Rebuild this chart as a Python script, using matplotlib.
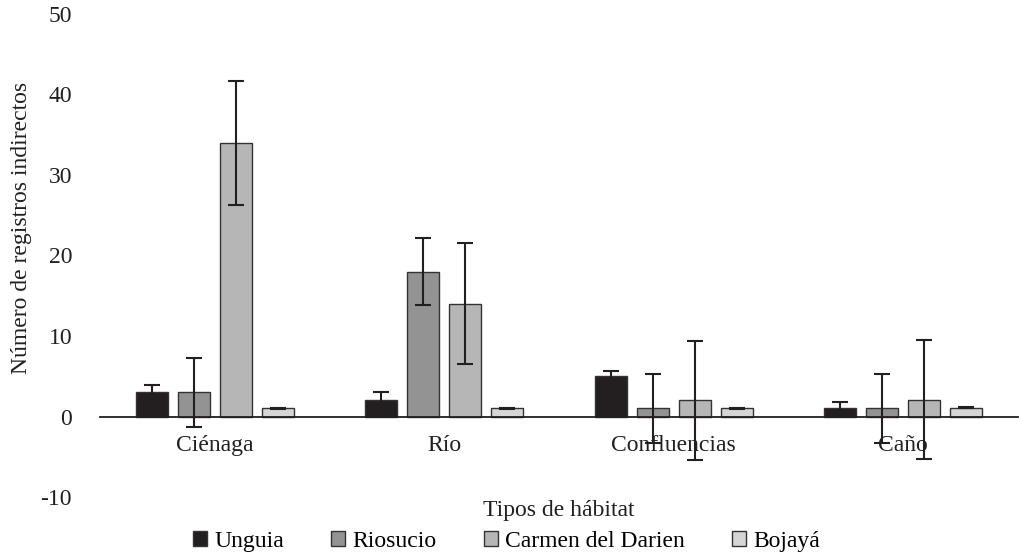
import matplotlib.pyplot as plt
import numpy as np

plt.rcParams['font.family'] = ['Liberation Serif', 'DejaVu Serif']
plt.rcParams['font.size'] = 17

# Indirect records per habitat type and municipality
habitats = ["Ciénaga", "Río", "Confluencias", "Caño"]
municipios = ["Unguia", "Riosucio", "Carmen del Darien", "Bojayá"]

unguia = [3, 2, 5, 1]
riosucio = [3, 18, 1, 1]
carmen = [34, 14, 2, 2.1]
bojaya = [1, 1, 1, 1.1]

unguia_err = [0.9, 1.0, 0.7, 0.8]
riosucio_err = [4.3, 4.2, 4.3, 4.3]
carmen_err = [7.7, 7.5, 7.4, 7.4]
bojaya_err = [0.1, 0.1, 0.1, 0.1]

colors = ["#231f20", "#939393", "#b5b6b5", "#d6d6d6"]

series = [unguia, riosucio, carmen, bojaya]
errors = [unguia_err, riosucio_err, carmen_err, bojaya_err]

fig, ax = plt.subplots(figsize=(10.19, 5.56), dpi=100)
fig.subplots_adjust(left=0.098, right=0.999, bottom=0.106, top=0.975)

x = np.arange(len(habitats))
width = 0.14
step = 0.183
for i, (vals, errs, name) in enumerate(zip(series, errors, municipios)):
    pos = x + (i - 1.5) * step
    ax.bar(pos, vals, width, color=colors[i], edgecolor="#333333",
           linewidth=1.0, label=name, zorder=2)
    ax.errorbar(pos, vals, yerr=errs, fmt="none", ecolor="#231f20",
                elinewidth=1.5, capsize=6, capthick=1.5, zorder=3)

ax.set_xlim(-0.5, len(habitats) - 0.5)
ax.set_ylim(-10, 50)
ax.set_yticks(range(-10, 51, 10))
ax.set_yticklabels([str(v) for v in range(-10, 51, 10)])
ax.set_xticks(x)
ax.set_xticklabels(habitats)

for side in ["top", "right", "left"]:
    ax.spines[side].set_visible(False)
ax.spines["bottom"].set_position(("data", 0))
ax.spines["bottom"].set_color("#231f20")
ax.spines["bottom"].set_linewidth(1.3)
ax.tick_params(axis="both", length=0, colors="#231f20")
ax.tick_params(axis="x", pad=13)
ax.tick_params(axis="y", pad=20)

ax.set_ylabel("Número de registros indirectos", color="#231f20")
ax.yaxis.set_label_coords(-0.074, 0.557)
fig.text(0.548, 0.082, "Tipos de hábitat", ha="center", va="center",
         color="#231f20")

ax.legend(loc="center", bbox_to_anchor=(0.443, -0.091), ncol=4,
          frameon=False, handlelength=0.6, handleheight=0.6,
          handletextpad=0.3, columnspacing=2.0, borderaxespad=0,
          borderpad=0, prop={"family": ["Liberation Serif"], "size": 17})

fig.savefig("out.png", dpi=100)
